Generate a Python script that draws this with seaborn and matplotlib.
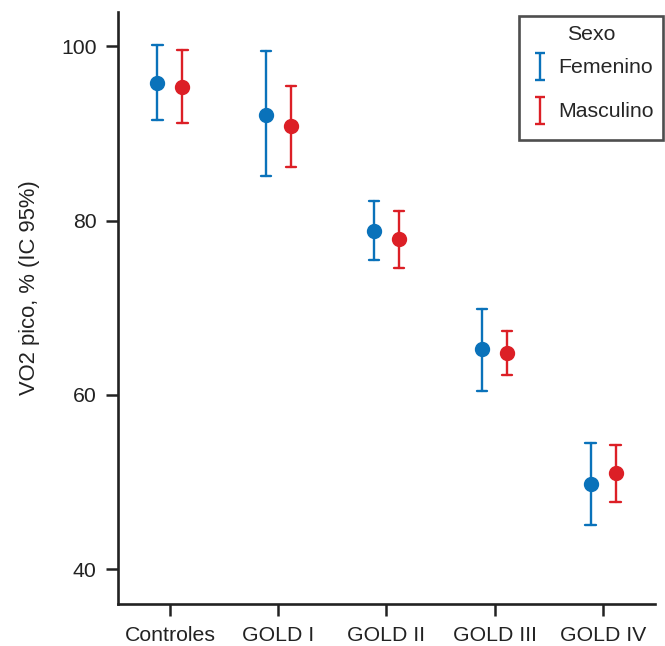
import numpy as np
import pandas as pd
import seaborn as sns
import matplotlib.pyplot as plt
from matplotlib.path import Path
from matplotlib.lines import Line2D
from matplotlib.markers import MarkerStyle
from matplotlib.transforms import Affine2D

# valores (VO2 pico %, media e IC 95%)
grupos = ["Controles", "GOLD I", "GOLD II", "GOLD III", "GOLD IV"]
sexos = ["Femenino", "Masculino"]
fem_media = [95.8, 92.1, 78.8, 65.3, 49.8]
fem_inf = [91.5, 85.1, 75.5, 60.4, 45.1]
fem_sup = [100.2, 99.4, 82.3, 69.9, 54.5]
masc_media = [95.3, 90.8, 77.9, 64.8, 51.0]
masc_inf = [91.2, 86.1, 74.5, 62.3, 47.7]
masc_sup = [99.6, 95.4, 81.1, 67.3, 54.2]
y_ticks = [40, 60, 80, 100]
colores = {"Femenino": "#0a72ba", "Masculino": "#dc1f26"}

# tabla larga: inf, media, sup por grupo -> mediana = media, rango = IC
filas = []
for sexo, med, lo, hi in [("Femenino", fem_media, fem_inf, fem_sup),
                          ("Masculino", masc_media, masc_inf, masc_sup)]:
    for g, m, a, b in zip(grupos, med, lo, hi):
        for v in (a, m, b):
            filas.append({"grupo": g, "Sexo": sexo, "vo2": v})
df = pd.DataFrame(filas)

sns.set_style("ticks")
plt.rcParams["font.family"] = ["Liberation Sans", "DejaVu Sans"]
fs = 15.3

fig = plt.figure(figsize=(6.65, 6.46), dpi=100)
ax = fig.add_axes([0.1774, 0.065, 0.8076, 0.916])

sns.pointplot(data=df, x="grupo", y="vo2", hue="Sexo", order=grupos,
              hue_order=sexos, palette=colores,
              estimator="median", errorbar=lambda v: (v.min(), v.max()),
              dodge=0.23, linestyle="none", capsize=0.095,
              err_kws={"linewidth": 1.7}, markersize=9,
              legend=False, ax=ax)

ax.set_xlim(-0.48, 4.48)
ax.set_ylim(36.0, 103.9)
ax.set_yticks(y_ticks)
ax.set_xlabel("")
ax.set_ylabel("VO2 pico, % (IC 95%)", fontsize=15.8, color="#222222")
ax.yaxis.set_label_coords(-0.145, 0.535)
ax.tick_params(axis="both", labelsize=fs, colors="#222222", width=1.8, length=8.5, pad=7)
for s in ["top", "right"]:
    ax.spines[s].set_visible(False)
for s in ["left", "bottom"]:
    ax.spines[s].set_linewidth(1.9)
    ax.spines[s].set_color("#222222")

# marcador en forma de "I" para la leyenda (bajado para centrarlo con el texto)
barra = Path([(-0.35, -1), (0.35, -1), (0, -1), (0, 1), (-0.35, 1), (0.35, 1)],
             [Path.MOVETO, Path.LINETO, Path.MOVETO, Path.LINETO, Path.MOVETO, Path.LINETO])
barra_m = MarkerStyle(barra, transform=Affine2D().translate(0, -0.27))
handles = [Line2D([], [], marker=barra_m, linestyle="none", markersize=20,
                  markeredgewidth=1.7, markeredgecolor=colores[s], markerfacecolor="none")
           for s in sexos]
leg = ax.legend(handles, sexos, title="Sexo", loc="upper left",
                bbox_to_anchor=(0.781, 0.975), bbox_transform=fig.transFigure,
                fontsize=fs, title_fontsize=fs, frameon=True, fancybox=False,
                labelspacing=0.05, handleheight=2.73, handlelength=1.1,
                handletextpad=0.35, borderpad=0.4, borderaxespad=0)
leg.get_frame().set_edgecolor("#222222")
leg.get_frame().set_linewidth(1.9)
leg.set_clip_on(False)

fig.savefig("out.png", dpi=100)
